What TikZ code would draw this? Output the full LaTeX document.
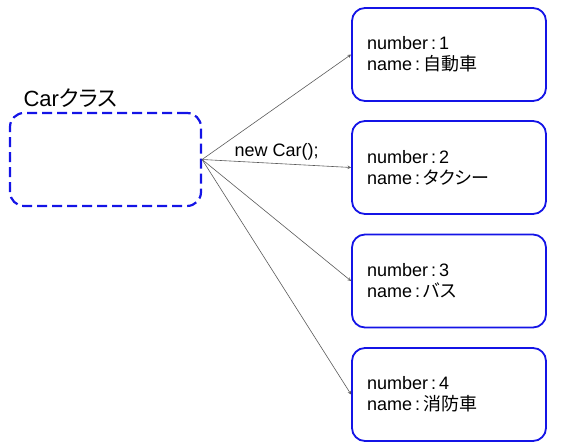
\documentclass[tikz,border=0pt]{standalone}
\usepackage{fontspec}
\setmainfont{Liberation Sans}
\newfontfamily\cjk[RawFeature=+palt]{Noto Sans CJK JP}
\definecolor{boxblue}{RGB}{20,20,230}
\definecolor{linegray}{RGB}{90,90,90}
\tikzset{
  objbox/.style={draw=boxblue, line width=1.8pt, rounded corners=13pt, minimum width=194pt, minimum height=93pt, text width=164pt, inner xsep=15pt, align=left, font=\fontsize{18pt}{21pt}\selectfont},
  classbox/.style={draw=boxblue, line width=2.2pt, dash pattern=on 10pt off 5pt, rounded corners=14pt, minimum width=191pt, minimum height=93pt},
  newarrow/.style={->, >=stealth, draw=linegray, line width=0.6pt}
}
\begin{document}
\begin{tikzpicture}[x=1pt, y=-1pt]
  \useasboundingbox (0,0) rectangle (563,446);
  % 1. クラスの枠
  \node[classbox] (car) at (105.5,159.5) {};
  \node[anchor=west, font=\fontsize{22pt}{24pt}\selectfont] (carlabel) at (20,98) {Car\cjk クラス};

  % 2. インスタンスの枠
  \node[objbox] (obj1) at (449,54.5) {number\,:\,1\\name\,:\,{\cjk 自動車}};
  \node[objbox] (obj2) at (449,167.5) {number\,:\,2\\name\,:\,{\cjk タクシー}};
  \node[objbox] (obj3) at (449,281) {number\,:\,3\\name\,:\,{\cjk バス}};
  \node[objbox] (obj4) at (449,394.5) {number\,:\,4\\name\,:\,{\cjk 消防車}};

  % 3. 矢印
  \draw[newarrow] (car.east) -- (obj1.west);
  \draw[newarrow] (car.east) -- node[above, text=black, font=\fontsize{18pt}{20pt}\selectfont] (newlabel) {new Car();} (obj2.west);
  \draw[newarrow] (car.east) -- (obj3.west);
  \draw[newarrow] (car.east) -- (obj4.west);
\end{tikzpicture}
\end{document}
